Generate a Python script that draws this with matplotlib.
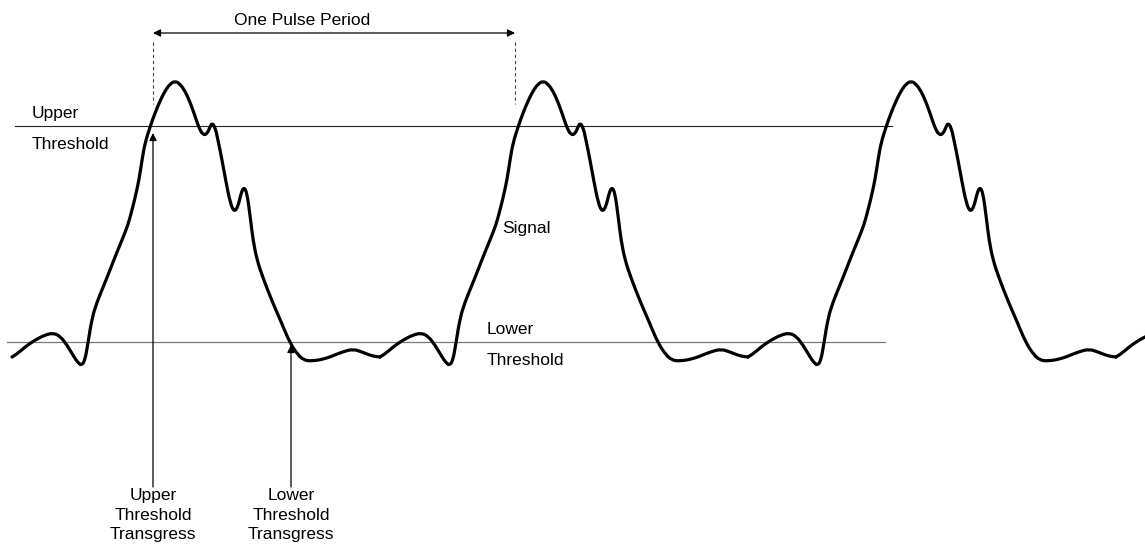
import numpy as np
import matplotlib.pyplot as plt
from matplotlib.path import Path
from matplotlib.patches import PathPatch

plt.rcParams['font.family'] = ['Liberation Sans', 'DejaVu Sans']

# one period of the hand-drawn signal (pixel coords, y down)
pulse_x = [12, 17, 25, 35, 45, 53, 60, 67, 74, 79, 82, 85, 88, 92, 97, 104, 110, 115,
           122, 128, 132, 135, 139, 142, 145, 150, 155, 160, 165, 170, 175, 180, 185,
           190, 195, 199, 203, 207, 210, 212, 215, 218, 222, 226, 230, 234, 238, 241,
           244, 247, 250, 253, 257, 263, 272, 282, 290, 298, 304, 310, 320, 330, 342,
           353, 362, 372, 380]
pulse_y = [357, 354, 347, 340, 335, 333, 336, 345, 357, 364, 365, 360, 343, 318, 302,
           285, 270, 257, 240, 225, 210, 198, 180, 160, 143, 127, 113, 101, 91, 84, 81,
           84, 91, 102, 116, 128, 135, 134, 127, 123, 127, 140, 160, 182, 202, 212, 207,
           193, 187, 193, 215, 240, 260, 278, 301, 324, 343, 355, 360, 361, 360, 357,
           352, 349, 352, 356, 357]
period = 368
n_copies = 4

upper_level = 126
lower_level = 342
upper_span = [15, 892]
lower_span = [7, 885]

period_marks = [153, 515]
upper_cross_x = 153
lower_cross_x = 291


def smooth_path(xs, ys):
    # quadratic curves through midpoints so the drawn line has no corners
    pts = np.column_stack([xs, ys])
    verts = [pts[0]]
    codes = [Path.MOVETO]
    for i in range(1, len(pts) - 1):
        mid = (pts[i] + pts[i + 1]) / 2
        verts += [pts[i], mid]
        codes += [Path.CURVE3, Path.CURVE3]
    verts.append(pts[-1])
    codes.append(Path.LINETO)
    return Path(verts, codes)


fig = plt.figure(figsize=(11.45, 5.49), dpi=100)
ax = fig.add_axes([0, 0, 1, 1])
ax.set_xlim(0, 1145)
ax.set_ylim(549, 0)
ax.axis('off')

# signal: same pulse repeated
for k in range(n_copies):
    xs = np.array(pulse_x, dtype=float) + k * period
    patch = PathPatch(smooth_path(xs, pulse_y), facecolor='none', edgecolor='black',
                      lw=2.3, joinstyle='round', capstyle='round', zorder=3)
    ax.add_patch(patch)

# thresholds
ax.plot(upper_span, [upper_level, upper_level], color='#222222', lw=0.8, zorder=2)
ax.plot(lower_span, [lower_level, lower_level], color='#777777', lw=0.9, zorder=2)

fs = 12.5
ax.text(32, 118, 'Upper', fontsize=fs, ha='left', va='baseline')
ax.text(32, 149, 'Threshold', fontsize=fs, ha='left', va='baseline')
ax.text(487, 334, 'Lower', fontsize=fs, ha='left', va='baseline')
ax.text(487, 365, 'Threshold', fontsize=fs, ha='left', va='baseline')
ax.text(502, 233, 'Signal', fontsize=fs, ha='left', va='baseline')

# pulse period marker
ax.annotate('', xy=(period_marks[0], 33), xytext=(period_marks[1], 33),
            arrowprops=dict(arrowstyle='<|-|>', color='black', lw=0.9,
                            mutation_scale=11, shrinkA=0, shrinkB=0))
ax.text(302, 25, 'One Pulse Period', fontsize=fs, ha='center', va='baseline')
for xm in period_marks:
    ax.plot([xm, xm], [42, 104], color='#444444', lw=0.8, ls=(0, (3, 2.5)))

# transgress arrows
for xa, ya, lab in [(upper_cross_x, 133, 'Upper\nThreshold\nTransgress'),
                    (lower_cross_x, 345, 'Lower\nThreshold\nTransgress')]:
    ax.annotate('', xy=(xa, ya), xytext=(xa, 487),
                arrowprops=dict(arrowstyle='-|>', color='black', lw=0.9,
                                mutation_scale=11, shrinkA=0, shrinkB=0))
    ax.text(xa, 488, lab, fontsize=fs, ha='center', va='top', linespacing=1.38)

fig.savefig('out.png', dpi=100)
